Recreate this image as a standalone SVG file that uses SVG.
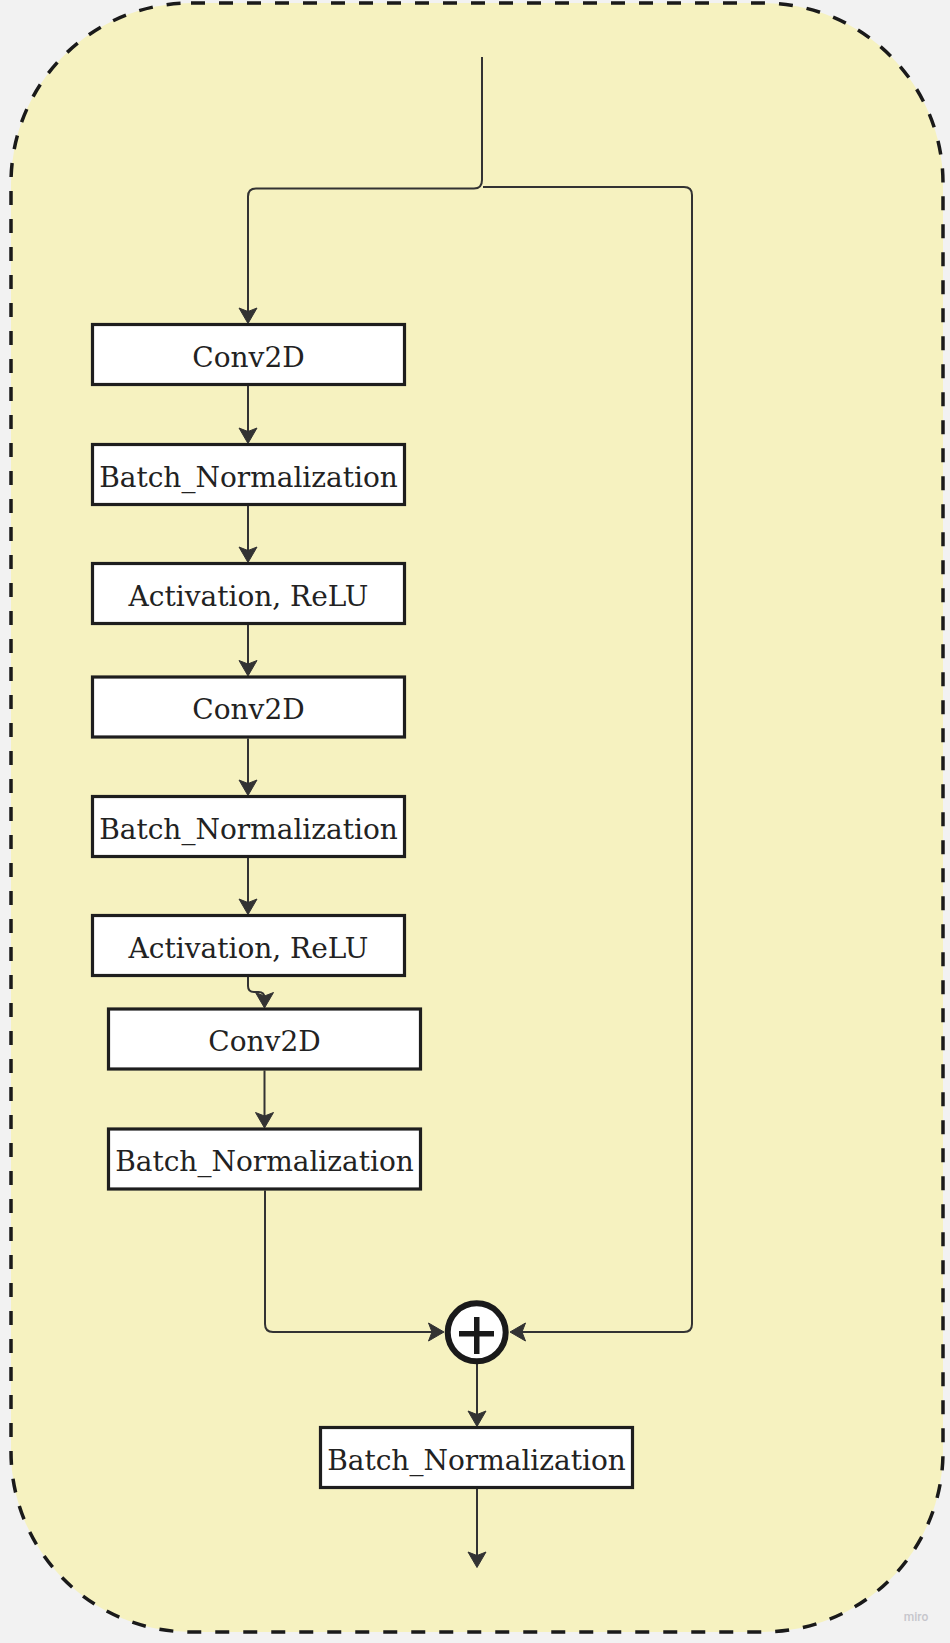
<svg xmlns="http://www.w3.org/2000/svg" width="950" height="1643" viewBox="0 0 950 1643">
  <style>
    .box rect { fill: #ffffff; stroke: #1e1e1e; stroke-width: 3.2; }
    .box text { font-family: "DejaVu Serif", "Liberation Serif", serif; font-size: 28px; fill: #222222; text-anchor: middle; }
    .wire { fill: none; stroke: #333333; stroke-width: 2; marker-end: url(#head); }
  </style>
  <defs>
    <marker id="head" viewBox="-14 -11 18 22" markerWidth="18" markerHeight="22" refX="0" refY="0" orient="auto" markerUnits="userSpaceOnUse">
      <path d="M3.5,0 L-12,-9 L-8.5,0 L-12,9 Z" fill="#333333" stroke="#333333" stroke-width="1" stroke-linejoin="round"/>
    </marker>
  </defs>

  <!-- canvas -->
  <rect x="0" y="0" width="950" height="1643" fill="#f2f2f2"/>

  <!-- residual block frame -->
  <rect id="frame" x="11" y="3" width="932" height="1629" rx="180" ry="180" fill="#f6f2c0" stroke="#1a1a1a" stroke-width="3.5" stroke-dasharray="14 14"/>

  <!-- connectors -->
  <g id="connectors">
    <!-- input splitting into main path and shortcut -->
    <path class="wire" d="M482 57 V180 Q482 188.5 474 188.5 H256 Q248 188.5 248 196.5 V320"/>
    <path class="wire" d="M483 187 H684 Q692 187 692 195 V1324 Q692 1332 684 1332 H513.5"/>
    <path class="wire" d="M248 386 V440"/>
    <path class="wire" d="M248 506 V559"/>
    <path class="wire" d="M248 625 V672.5"/>
    <path class="wire" d="M248 738.5 V792"/>
    <path class="wire" d="M248 858 V911"/>
    <path class="wire" d="M248 977 V986 Q248 992 254 992 H258.5 Q264.5 992 264.5 998 V1004.5"/>
    <path class="wire" d="M264.5 1070.5 V1124.5"/>
    <path class="wire" d="M265 1190.5 V1324 Q265 1332 273 1332 H440.5"/>
    <path class="wire" d="M477 1364 V1423"/>
    <path class="wire" d="M477 1489 V1564"/>
  </g>

  <g id="conv2d-1" class="box">
    <rect x="92.5" y="324.5" width="312" height="60"/>
    <text x="248.5" y="366.5">Conv2D</text>
  </g>
  <g id="batchnorm-1" class="box">
    <rect x="92.5" y="444.5" width="312" height="60"/>
    <text x="248.5" y="486.5">Batch_Normalization</text>
  </g>
  <g id="relu-1" class="box">
    <rect x="92.5" y="563.5" width="312" height="60"/>
    <text x="248.5" y="605.5">Activation, ReLU</text>
  </g>
  <g id="conv2d-2" class="box">
    <rect x="92.5" y="677" width="312" height="60"/>
    <text x="248.5" y="719">Conv2D</text>
  </g>
  <g id="batchnorm-2" class="box">
    <rect x="92.5" y="796.5" width="312" height="60"/>
    <text x="248.5" y="838.5">Batch_Normalization</text>
  </g>
  <g id="relu-2" class="box">
    <rect x="92.5" y="915.5" width="312" height="60"/>
    <text x="248.5" y="957.5">Activation, ReLU</text>
  </g>
  <g id="conv2d-3" class="box">
    <rect x="108.5" y="1009" width="312" height="60"/>
    <text x="264.5" y="1051">Conv2D</text>
  </g>
  <g id="batchnorm-3" class="box">
    <rect x="108.5" y="1129" width="312" height="60"/>
    <text x="264.5" y="1171">Batch_Normalization</text>
  </g>

  <!-- element-wise addition -->
  <g id="add">
    <circle cx="476.7" cy="1332.3" r="29" fill="#ffffff" stroke="#1a1a1a" stroke-width="6"/>
    <rect x="459" y="1331" width="35" height="5.5" fill="#1a1a1a"/>
    <rect x="474" y="1317" width="5.5" height="37" fill="#1a1a1a"/>
  </g>

  <g id="batchnorm-out" class="box">
    <rect x="320.5" y="1427.5" width="312" height="60"/>
    <text x="476.5" y="1469.5">Batch_Normalization</text>
  </g>

  <text x="916" y="1621" font-family="Roboto, 'Liberation Sans', sans-serif" font-size="12" font-weight="500" fill="#c6c6cc" text-anchor="middle">miro</text>
</svg>
